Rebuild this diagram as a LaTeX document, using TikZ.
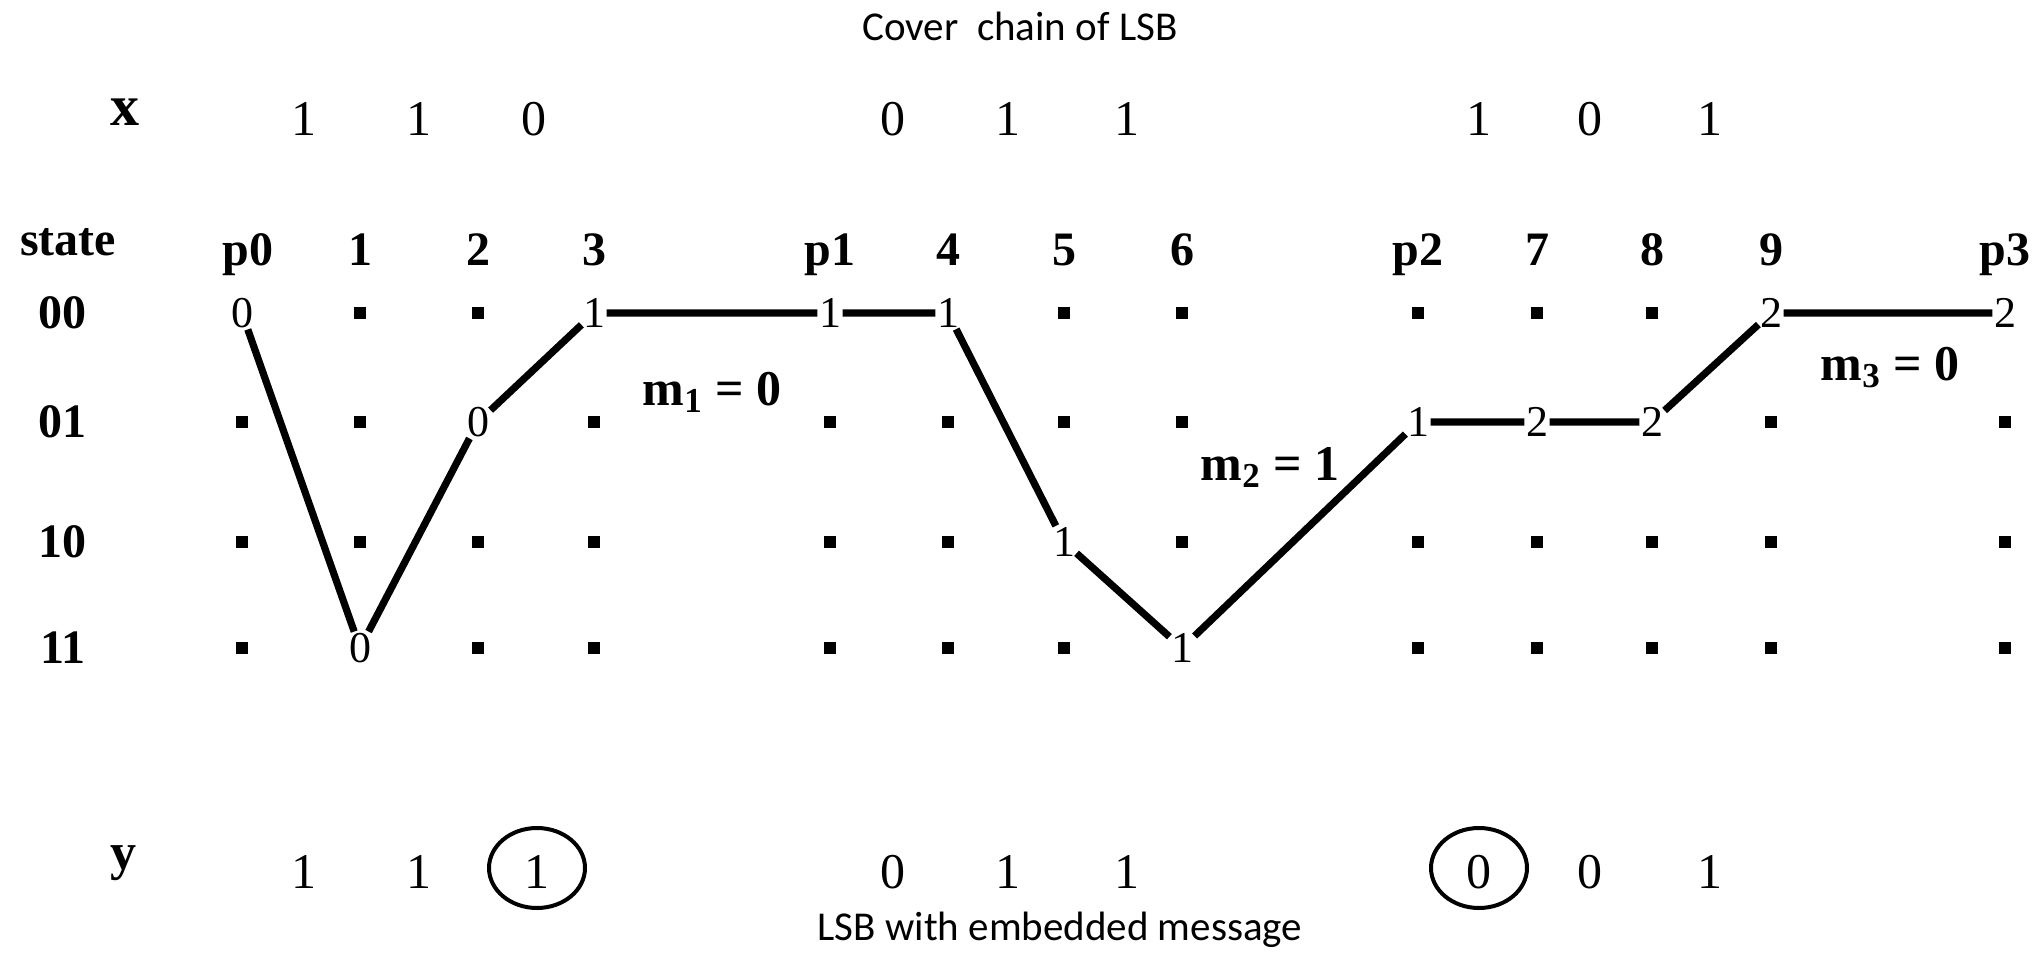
\documentclass[tikz,border=0pt]{standalone}
\usepackage{fontspec}
\setmainfont{Liberation Serif}
\newfontfamily\calib{Carlito}
\usetikzlibrary{shapes.geometric}
\begin{document}
\begin{tikzpicture}[x=0.5pt,y=-0.5pt,
  hdr/.style={font=\fontsize{24}{28}\selectfont\bfseries, inner sep=0pt, anchor=base},
  rowlab/.style={font=\fontsize{24}{28}\selectfont\bfseries, inner sep=0pt},
  gd/.style={font=\fontsize{22}{26}\selectfont, inner sep=0.6pt},
  dotsq/.style={fill=black, minimum size=6pt, inner sep=0pt},
  bit/.style={font=\fontsize{25}{30}\selectfont, inner sep=0pt, anchor=base},
  xvar/.style={font=\fontsize{29}{34}\selectfont\bfseries, inner sep=0pt, anchor=base},
  yvar/.style={font=\fontsize{26}{31}\selectfont\bfseries, inner sep=0pt, anchor=base},
  mlab/.style={font=\fontsize{25}{30}\selectfont\bfseries, inner sep=0pt, anchor=base},
  capt/.style={font=\calib\fontsize{20.5}{24}\selectfont, inner sep=0pt, anchor=base},
  chainline/.style={line width=3.6pt},
  ring/.style={draw, ellipse, line width=2pt, minimum width=48pt, minimum height=40pt, inner sep=0pt}]
\useasboundingbox (0,0) rectangle (2042,954);

% captions
\node[capt] (title) at (1020,40) {Cover\ \ chain of LSB};
\node[capt] (bottom) at (1060,940) {LSB with embedded message};

% x row
\node[xvar] (xlab) at (125,125) {x};
\foreach \n/\px/\v in {x1/304/1, x2/419/1, x3/534/0, x4/893/0, x5/1008/1, x6/1127/1, x7/1479/1, x8/1590/0, x9/1710/1}
  \node[bit] (\n) at (\px,135) {\v};

% y row
\node[yvar] (ylab) at (123,869) {y};
\foreach \n/\px/\v in {y1/304/1, y2/419/1, y3/537/1, y4/893/0, y5/1008/1, y6/1127/1, y7/1479/0, y8/1590/0, y9/1710/1}
  \node[bit] (\n) at (\px,888) {\v};
\node[ring] (c1) at (537,868) {};
\node[ring] (c2) at (1479,868) {};

% header
\node[hdr] (state) at (68,255) {state};
\foreach \n/\px/\t in {hp0/248/p0, h1/360/1, h2/478/2, h3/594/3, hp1/830/p1, h4/948/4, h5/1064/5, h6/1182/6, hp2/1418/p2, h7/1537/7, h8/1652/8, h9/1771/9, hp3/2005/p3}
  \node[hdr] (\n) at (\px,265) {\t};

% row labels
\foreach \r/\py in {00/313, 01/422, 10/542, 11/648}
  \node[rowlab] (lab\r) at (63,\py) {\r};

% dots
\foreach \c/\px in {a1/360, a2/478, a5/1064, a6/1182, p2/1418, a7/1537, a8/1652}
  \node[dotsq] (d\c-00) at (\px,313) {};
\foreach \c/\px in {p0/242, a1/360, a3/594, p1/830, a4/948, a5/1064, a6/1182, a9/1771, p3/2005}
  \node[dotsq] (d\c-01) at (\px,422) {};
\foreach \c/\px in {p0/242, a1/360, a2/478, a3/594, p1/830, a4/948, a6/1182, p2/1418, a7/1537, a8/1652, a9/1771, p3/2005}
  \node[dotsq] (d\c-10) at (\px,542) {};
\foreach \c/\px in {p0/242, a2/478, a3/594, p1/830, a4/948, a5/1064, p2/1418, a7/1537, a8/1652, a9/1771, p3/2005}
  \node[dotsq] (d\c-11) at (\px,648) {};

% path digits
\node[gd] (n0)  at (242,313) {0};
\node[gd] (n1)  at (360,648) {0};
\node[gd] (n2)  at (478,422) {0};
\node[gd] (n3)  at (594,313) {1};
\node[gd] (n4)  at (830,313) {1};
\node[gd] (n5)  at (948,313) {1};
\node[gd] (n6)  at (1064,542) {1};
\node[gd] (n7)  at (1182,648) {1};
\node[gd] (n8)  at (1418,422) {1};
\node[gd] (n9)  at (1537,422) {2};
\node[gd] (n10) at (1652,422) {2};
\node[gd] (n11) at (1771,313) {2};
\node[gd] (n12) at (2005,313) {2};

\draw[chainline] (n0) -- (n1) -- (n2) -- (n3) -- (n4) -- (n5) -- (n6) -- (n7) -- (n8) -- (n9) -- (n10) -- (n11) -- (n12);

% message labels
\node[mlab] (m1) at (712,405) {m\textsubscript{1} = 0};
\node[mlab] (m2) at (1270,480) {m\textsubscript{2} = 1};
\node[mlab] (m3) at (1890,380) {m\textsubscript{3} = 0};
\end{tikzpicture}
\end{document}
